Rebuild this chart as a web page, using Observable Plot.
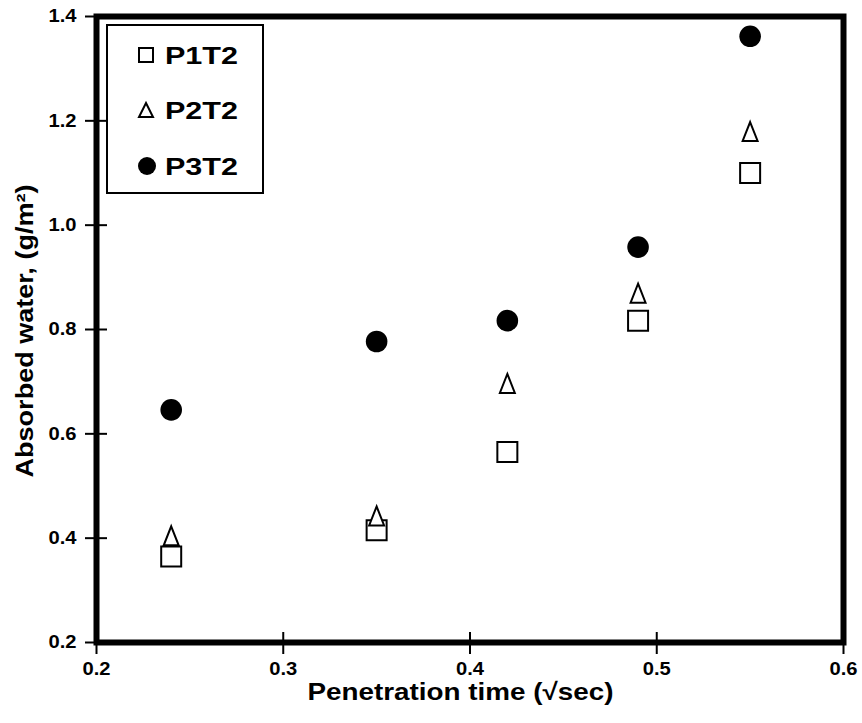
<!DOCTYPE html>
<html>
<head>
<meta charset="utf-8">
<script src="https://cdn.jsdelivr.net/npm/d3@7"></script>
<script src="https://cdn.jsdelivr.net/npm/@observablehq/plot@0.6"></script>
<style>
  html, body { margin: 0; padding: 0; background: #fff; }
  #wrap { position: relative; width: 862px; height: 723px; font-family: "Liberation Sans", Arial, sans-serif; }
  #legend { position: absolute; left: 106px; top: 24px; }
</style>
</head>
<body>
<div id="wrap"></div>
<script>
const times = [0.24, 0.35, 0.42, 0.49, 0.55];
const p1t2 = [0.365, 0.415, 0.565, 0.817, 1.10];
const p2t2 = [0.404, 0.442, 0.696, 0.869, 1.179];
const p3t2 = [0.646, 0.777, 0.817, 0.958, 1.362];
const seriesNames = ["P1T2", "P2T2", "P3T2"];
const xTicks = [0.2, 0.3, 0.4, 0.5, 0.6];
const yTicks = [0.2, 0.4, 0.6, 0.8, 1.0, 1.2, 1.4];
const xLabel = "Penetration time (√sec)";
const yLabel = "Absorbed water, (g/m²)";

const rows = [];
[p1t2, p2t2, p3t2].forEach((vals, s) => {
  vals.forEach((v, i) => rows.push({series: seriesNames[s], t: times[i], w: v}));
});

// custom symbols (size = PI * r^2)
const squareSym = {draw(ctx, size) { const r = Math.sqrt(size / Math.PI); const h = 0.885 * r; ctx.moveTo(-h, -h); ctx.lineTo(h, -h); ctx.lineTo(h, h); ctx.lineTo(-h, h); ctx.closePath(); }};
const triSym = {draw(ctx, size) { const r = Math.sqrt(size / Math.PI); ctx.moveTo(0, -0.85 * r); ctx.lineTo(0.65 * r, 0.8 * r); ctx.lineTo(-0.65 * r, 0.8 * r); ctx.closePath(); }};

const font = "Liberation Sans, Arial, sans-serif";
const chart = Plot.plot({
  width: 862,
  height: 723,
  marginLeft: 96,
  marginRight: 19,
  marginTop: 16,
  marginBottom: 81,
  style: {fontFamily: font, background: "#fff", color: "#000"},
  x: {domain: [0.2, 0.6]},
  y: {domain: [0.2, 1.4]},
  marks: [
    Plot.axisX(xTicks, {tickSize: 0, tickPadding: 20, fontSize: 18, fontWeight: "bold", tickFormat: d3.format(".1f"), label: null}),
    Plot.axisX(xTicks, {tickSize: 12, text: null, strokeWidth: 2, label: null}),
    Plot.axisX(xTicks, {tickSize: -10, text: null, strokeWidth: 2, label: null}),
    Plot.axisY(yTicks, {tickSize: 11, tickPadding: 9, fontSize: 18, fontWeight: "bold", tickFormat: d3.format(".1f"), strokeWidth: 2, label: null}),
    Plot.axisY(yTicks, {tickSize: -11, text: null, strokeWidth: 2, label: null}),
    Plot.frame({stroke: "#000", strokeWidth: 6}),
    Plot.dot(rows.filter(d => d.series === "P1T2"), {x: "t", y: "w", symbol: squareSym, r: 11.3, stroke: "#000", strokeWidth: 2, fill: "#fff"}),
    Plot.dot(rows.filter(d => d.series === "P2T2"), {x: "t", y: "w", symbol: triSym, r: 11.5, stroke: "#000", strokeWidth: 2, fill: "#fff"}),
    Plot.dot(rows.filter(d => d.series === "P3T2"), {x: "t", y: "w", symbol: "circle", r: 10.8, fill: "#000", stroke: "none"}),
    Plot.text([xLabel], {frameAnchor: "bottom", lineAnchor: "middle", textAnchor: "middle", dy: 50, dx: -9.5, fontSize: 24, fontWeight: "bold", fill: "#000"}),
    Plot.text([yLabel], {frameAnchor: "left", lineAnchor: "middle", textAnchor: "middle", dx: -70.5, dy: 1.5, rotate: -90, fontSize: 23, fontWeight: "bold", fill: "#000"})
  ]
});
const wrap = document.getElementById("wrap");
wrap.appendChild(chart);

function stretch(el, target) {
  const len = el.getComputedTextLength();
  el.setAttribute("textLength", target != null ? target : len * 1.12);
  el.setAttribute("lengthAdjust", "spacingAndGlyphs");
}
const tickTexts = new Set(xTicks.concat(yTicks).map(d3.format(".1f")));
chart.querySelectorAll("text").forEach(t => {
  const s = t.textContent;
  if (s === xLabel) { t.style.fontSize = "24px"; t.style.fontWeight = "bold"; stretch(t, 306); }
  else if (s === yLabel) { t.style.fontSize = "23px"; t.style.fontWeight = "bold"; stretch(t, 293); }
  else if (tickTexts.has(s)) { t.style.fontSize = "18px"; t.style.fontWeight = "bold"; stretch(t); }
});

// legend
const lg = d3.select(wrap).append("svg").attr("id", "legend").attr("width", 160).attr("height", 172);
lg.append("rect").attr("x", 1).attr("y", 1).attr("width", 156).attr("height", 168).attr("fill", "#fff").attr("stroke", "#000").attr("stroke-width", 2);
const rowsY = [31, 86, 142];
seriesNames.forEach((n, i) => {
  const cy = rowsY[i];
  if (n === "P1T2") lg.append("rect").attr("x", 33).attr("y", cy - 7).attr("width", 14).attr("height", 14).attr("fill", "#fff").attr("stroke", "#000").attr("stroke-width", 2);
  else if (n === "P2T2") lg.append("path").attr("d", `M40,${cy - 7} L47,${cy + 7} L33,${cy + 7} Z`).attr("fill", "#fff").attr("stroke", "#000").attr("stroke-width", 2);
  else lg.append("circle").attr("cx", 41).attr("cy", cy).attr("r", 9).attr("fill", "#000");
  const t = lg.append("text").attr("x", 59).attr("y", cy + 8.5).attr("font-family", font).attr("font-weight", "bold").attr("font-size", 23.5).attr("fill", "#000").text(n);
  t.attr("textLength", 73).attr("lengthAdjust", "spacingAndGlyphs");
});
</script>
</body>
</html>
